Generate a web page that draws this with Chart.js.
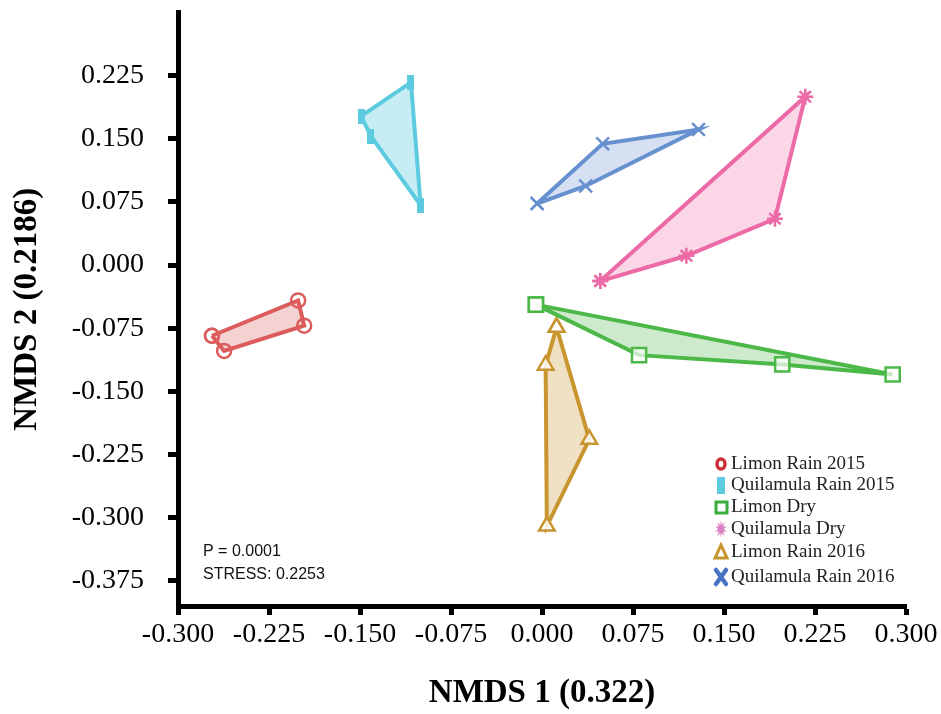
<!DOCTYPE html>
<html lang="en">
<head>
    <meta charset="UTF-8">
    <title>NMDS</title>
    <script src="https://cdn.jsdelivr.net/npm/chart.js"></script>
    <style>
        body { margin: 0; background: #fff; }
        #wrap { width: 941px; height: 714px; }
    </style>
</head>
<body>
    <div id="wrap"><canvas id="myChart" width="941" height="714"></canvas></div>

    <script>
        // group names (legend order)
        const groups = ['Limon Rain 2015', 'Quilamula Rain 2015', 'Limon Dry', 'Quilamula Dry', 'Limon Rain 2016', 'Quilamula Rain 2016'];

        // hull points, in drawing order
        const limonRain2015X = [-0.272, -0.201, -0.196, -0.262];
        const limonRain2015Y = [-0.084, -0.042, -0.072, -0.102];
        const quilRain2015X = [-0.149, -0.108, -0.100, -0.141];
        const quilRain2015Y = [0.177, 0.217, 0.071, 0.153];
        const limonDryX = [-0.005, 0.080, 0.198, 0.289];
        const limonDryY = [-0.047, -0.107, -0.118, -0.130];
        const quilDryX = [0.048, 0.217, 0.192, 0.119];
        const quilDryY = [-0.019, 0.200, 0.055, 0.011];
        const limonRain2016X = [0.012, 0.039, 0.004, 0.003];
        const limonRain2016Y = [-0.074, -0.207, -0.310, -0.119];
        const quilRain2016X = [-0.004, 0.050, 0.129, 0.036];
        const quilRain2016Y = [0.073, 0.144, 0.161, 0.094];

        const xTicks = [-0.3, -0.225, -0.15, -0.075, 0, 0.075, 0.15, 0.225, 0.3];
        const yTicks = [-0.375, -0.3, -0.225, -0.15, -0.075, 0, 0.075, 0.15, 0.225];

        const notes = ['P = 0.0001', 'STRESS: 0.2253'];

        // closed polygon: repeat first point at the end
        function hull(xs, ys) {
            const pts = xs.map((x, i) => ({ x: x, y: ys[i] }));
            pts.push({ x: xs[0], y: ys[0] });
            return pts;
        }

        // thin upright bar used as the cyan marker
        const bar = document.createElement('canvas');
        bar.width = 7; bar.height = 15;
        const bctx = bar.getContext('2d');
        bctx.fillStyle = '#5ccbdf';
        bctx.fillRect(0, 0, 7, 15);

        function ds(label, pts, color, fill, style, radius, bg) {
            return {
                label: label,
                data: pts,
                showLine: true,
                fill: 'shape',
                borderColor: color,
                backgroundColor: fill,
                borderWidth: 4,
                pointStyle: style,
                pointRadius: radius,
                pointBorderColor: color,
                pointBackgroundColor: bg,
                pointBorderWidth: 2.5
            };
        }

        const datasets = [
            ds(groups[0], hull(limonRain2015X, limonRain2015Y), '#dc5c5c', 'rgba(220,92,92,0.28)', 'circle', 7, 'rgba(255,255,255,0)'),
            ds(groups[1], hull(quilRain2015X, quilRain2015Y), '#5ccbdf', 'rgba(92,203,223,0.35)', bar, 7, '#5ccbdf'),
            ds(groups[2], hull(limonDryX, limonDryY), '#4cb848', 'rgba(76,184,72,0.28)', 'rect', 10, 'rgba(255,255,255,0.7)'),
            ds(groups[3], hull(quilDryX, quilDryY), '#ec6aa6', 'rgba(236,106,166,0.28)', 'star', 8, '#ec6aa6'),
            ds(groups[4], hull(limonRain2016X, limonRain2016Y), '#c8952f', 'rgba(200,149,47,0.28)', 'triangle', 9, 'rgba(255,255,255,0.85)'),
            ds(groups[5], hull(quilRain2016X, quilRain2016Y), '#6790cf', 'rgba(103,144,207,0.28)', 'crossRot', 9, '#6790cf')
        ];

        // legend + notes drawn on top of the chart
        const extras = {
            id: 'extras',
            afterDraw(chart) {
                const ctx = chart.ctx;
                ctx.save();
                ctx.font = '16px "Liberation Sans", Arial, sans-serif';
                ctx.fillStyle = '#111';
                ctx.textBaseline = 'middle';
                ctx.textAlign = 'left';
                ctx.fillText(notes[0], 203, 552);
                ctx.fillText(notes[1], 203, 575);

                const lx = 721, tx = 731;
                const rows = [464, 485, 507, 529, 552, 577];
                ctx.font = '19px "Liberation Serif", "Times New Roman", serif';
                ctx.fillStyle = '#222';
                groups.forEach((g, i) => ctx.fillText(g, tx, rows[i]));

                // markers
                let y = rows[0];
                ctx.lineWidth = 3.5; ctx.strokeStyle = '#c8313a';
                ctx.beginPath(); ctx.ellipse(lx, y, 4, 5, 0, 0, Math.PI * 2); ctx.stroke();

                y = rows[1];
                ctx.fillStyle = '#5ccbdf';
                ctx.fillRect(lx - 4, y - 8, 8, 17);

                y = rows[2];
                ctx.lineWidth = 3; ctx.strokeStyle = '#3aad3a';
                ctx.strokeRect(lx - 5, y - 5, 11, 11);

                y = rows[3];
                ctx.fillStyle = '#d97fc0';
                ctx.beginPath();
                for (let k = 0; k < 20; k++) {
                    const a = k * Math.PI / 10;
                    const r = k % 2 === 0 ? 9 : 4;
                    ctx.lineTo(lx + r * Math.sin(a) * 0.7, y - r * Math.cos(a));
                }
                ctx.closePath(); ctx.fill();

                y = rows[4];
                ctx.lineWidth = 3; ctx.strokeStyle = '#c8952f';
                ctx.beginPath();
                ctx.moveTo(lx, y - 7); ctx.lineTo(lx + 6, y + 6); ctx.lineTo(lx - 6, y + 6);
                ctx.closePath(); ctx.stroke();

                y = rows[5];
                ctx.lineWidth = 4.5; ctx.strokeStyle = '#4a72c4'; ctx.lineCap = 'round';
                ctx.beginPath();
                ctx.moveTo(lx - 5, y - 7); ctx.lineTo(lx + 5, y + 7);
                ctx.moveTo(lx + 5, y - 7); ctx.lineTo(lx - 5, y + 7);
                ctx.stroke();
                ctx.restore();
            }
        };

        const tickFont = { family: '"Liberation Serif", "Times New Roman", serif', size: 28 };
        const titleFont = { family: '"Liberation Serif", "Times New Roman", serif', size: 33, weight: 'bold' };

        var ctx = document.getElementById('myChart').getContext('2d');
        var myChart = new Chart(ctx, {
            type: 'scatter',
            data: { datasets: datasets },
            plugins: [extras],
            options: {
                responsive: false,
                animation: false,
                layout: { padding: { left: 0, top: 7, right: 35, bottom: 0 } },
                plugins: { legend: { display: false }, tooltip: { enabled: false } },
                scales: {
                    x: {
                        type: 'linear',
                        min: -0.3,
                        max: 0.3,
                        afterBuildTicks: s => { s.ticks = xTicks.map(v => ({ value: v })); },
                        afterFit: s => { s.height = 108; s.paddingLeft = 0; s.paddingRight = 0; },
                        border: { color: '#000', width: 5 },
                        grid: { drawOnChartArea: false, color: '#000', tickLength: 9, tickWidth: 5 },
                        ticks: {
                            color: '#000', font: tickFont, padding: 3, maxRotation: 0,
                            callback: v => v.toFixed(3)
                        },
                        title: { display: true, text: 'NMDS 1 (0.322)', color: '#000', font: titleFont, padding: { top: 0, bottom: 1 } }
                    },
                    y: {
                        type: 'linear',
                        min: -0.405,
                        max: 0.3,
                        afterBuildTicks: s => { s.ticks = yTicks.map(v => ({ value: v })); },
                        afterFit: s => { s.width = 178; s.paddingTop = 0; s.paddingBottom = 0; },
                        border: { color: '#000', width: 5 },
                        grid: { drawOnChartArea: false, color: '#000', tickLength: 10, tickWidth: 5 },
                        ticks: {
                            color: '#000', font: tickFont, padding: 24,
                            callback: v => v.toFixed(3)
                        },
                        title: { display: true, text: 'NMDS 2 (0.2186)', color: '#000', font: titleFont, padding: { top: 8, bottom: 0 } }
                    }
                }
            }
        });
    </script>
</body>
</html>
